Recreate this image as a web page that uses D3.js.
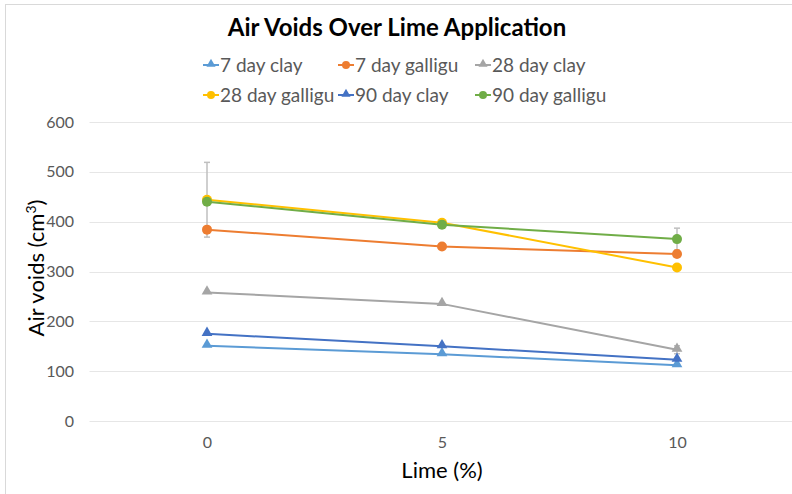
<!DOCTYPE html>
<html>
<head>
<meta charset="utf-8">
<script src="https://cdn.jsdelivr.net/npm/d3@7"></script>
<style>
  body { margin: 0; background: #fff; }
  text { font-family: Lato, "Open Sans", sans-serif; }
</style>
</head>
<body>
<div id="chart"></div>
<script>
// data
var limeLevels = [0, 5, 10];
var seriesNames = ["7 day clay", "7 day galligu", "28 day clay", "28 day galligu", "90 day clay", "90 day galligu"];
var clay7 = [151, 134, 112];
var galligu7 = [384, 350, 335];
var clay28 = [258, 235, 143];
var galligu28 = [444, 398, 308];
var clay90 = [175, 150, 123];
var galligu90 = [440, 394, 365];
// error bar half-widths (0 = not visible)
var errGalligu28 = [75, 0, 0];
var errGalligu90 = [0, 0, 22];
var errClay28 = [0, 0, 8];
var yTicks = [0, 100, 200, 300, 400, 500, 600];

var colors = ["#5B9BD5", "#ED7D31", "#A5A5A5", "#FFC000", "#4472C4", "#70AD47"];
var shapes = ["tri", "circ", "tri", "circ", "tri", "circ"];
var allValues = [clay7, galligu7, clay28, galligu28, clay90, galligu90];
var allErr = [null, null, errClay28, errGalligu28, null, errGalligu90];

var series = seriesNames.map(function(name, i) {
  return {
    name: name, color: colors[i], shape: shapes[i],
    points: limeLevels.map(function(x, j) {
      return { x: x, y: allValues[i][j], e: allErr[i] ? allErr[i][j] : 0 };
    })
  };
});

var width = 792, height = 494;

var svg = d3.select("#chart").append("svg")
  .attr("width", width).attr("height", height);

// chart border
svg.append("rect")
  .attr("x", 5.5).attr("y", 4.5)
  .attr("width", 800).attr("height", 500)
  .attr("fill", "none").attr("stroke", "#d9d9d9");

var x = d3.scaleLinear().domain([-2.5, 12.5]).range([89.5, 794.5]);
var y = d3.scaleLinear().domain([0, 600]).range([421, 122]);

// gridlines
svg.append("g")
  .selectAll("line").data(yTicks).enter().append("line")
  .attr("x1", x(-2.5)).attr("x2", x(12.5))
  .attr("y1", function(d) { return Math.round(y(d)) + 0.5; })
  .attr("y2", function(d) { return Math.round(y(d)) + 0.5; })
  .attr("stroke", "#e6e6e6").attr("stroke-width", 1);

// y axis labels
var yAxis = svg.append("g")
  .attr("transform", "translate(74,0)")
  .call(d3.axisLeft(y).tickValues(yTicks).tickSize(0).tickPadding(0));
yAxis.select(".domain").remove();
yAxis.selectAll("text")
  .attr("fill", "#595959").style("font-size", "16px")
  .style("font-family", "Lato, sans-serif");

// x axis labels
var xAxis = svg.append("g")
  .attr("transform", "translate(0,437)")
  .call(d3.axisBottom(x).tickValues(limeLevels).tickSize(0).tickPadding(0));
xAxis.select(".domain").remove();
xAxis.selectAll("text")
  .attr("fill", "#595959").style("font-size", "16px")
  .style("font-family", "Lato, sans-serif");

// title
svg.append("text")
  .attr("x", 397).attr("y", 36)
  .attr("text-anchor", "middle")
  .style("font-size", "24px").style("font-weight", "bold")
  .attr("fill", "#000")
  .text("Air Voids Over Lime Application");

// axis titles
svg.append("text")
  .attr("x", 442).attr("y", 478)
  .attr("text-anchor", "middle")
  .style("font-size", "22px").attr("fill", "#000")
  .text("Lime (%)");

var yt = svg.append("text")
  .attr("transform", "translate(44,268) rotate(-90)")
  .attr("text-anchor", "middle")
  .style("font-size", "22px").attr("fill", "#000");
yt.append("tspan").text("Air voids (cm");
yt.append("tspan").attr("dy", -8).style("font-size", "14px").text("3");
yt.append("tspan").attr("dy", 8).text(")");

var line = d3.line()
  .x(function(d) { return x(d.x); })
  .y(function(d) { return y(d.y); });

var triangle = d3.symbol().type(d3.symbolTriangle).size(50);

// error bars
series.forEach(function(s) {
  var eb = s.points.filter(function(p) { return p.e > 0; });
  var g = svg.append("g");
  g.selectAll(".eb").data(eb).enter().append("line")
    .attr("x1", function(d) { return x(d.x); }).attr("x2", function(d) { return x(d.x); })
    .attr("y1", function(d) { return y(d.y + d.e); }).attr("y2", function(d) { return y(d.y - d.e); })
    .attr("stroke", "#bfbfbf").attr("stroke-width", 1.5);
  g.selectAll(".capTop").data(eb).enter().append("line")
    .attr("x1", function(d) { return x(d.x) - 3; }).attr("x2", function(d) { return x(d.x) + 3; })
    .attr("y1", function(d) { return y(d.y + d.e); }).attr("y2", function(d) { return y(d.y + d.e); })
    .attr("stroke", "#bfbfbf").attr("stroke-width", 1.5);
  g.selectAll(".capBot").data(eb).enter().append("line")
    .attr("x1", function(d) { return x(d.x) - 3; }).attr("x2", function(d) { return x(d.x) + 3; })
    .attr("y1", function(d) { return y(d.y - d.e); }).attr("y2", function(d) { return y(d.y - d.e); })
    .attr("stroke", "#bfbfbf").attr("stroke-width", 1.5);
});

// lines and markers
series.forEach(function(s) {
  svg.append("path")
    .datum(s.points)
    .attr("d", line)
    .attr("fill", "none")
    .attr("stroke", s.color).attr("stroke-width", 2);

  if (s.shape === "circ") {
    svg.selectAll(null).data(s.points).enter().append("circle")
      .attr("cx", function(d) { return x(d.x); })
      .attr("cy", function(d) { return y(d.y); })
      .attr("r", 5).attr("fill", s.color);
  } else {
    svg.selectAll(null).data(s.points).enter().append("path")
      .attr("d", triangle)
      .attr("transform", function(d) { return "translate(" + x(d.x) + "," + (y(d.y) - 1) + ")"; })
      .attr("fill", s.color);
  }
});

// legend: 3 columns x 2 rows
var legendX = [203, 338, 475];
var legendY = [65, 95];
var legend = svg.selectAll(".legend").data(series).enter().append("g")
  .attr("class", "legend")
  .attr("transform", function(d, i) {
    return "translate(" + legendX[i % 3] + "," + legendY[Math.floor(i / 3)] + ")";
  });
legend.append("line")
  .attr("x1", 0).attr("x2", 16).attr("y1", 0).attr("y2", 0)
  .attr("stroke", function(d) { return d.color; }).attr("stroke-width", 2);
legend.each(function(d) {
  var g = d3.select(this);
  if (d.shape === "circ") {
    g.append("circle").attr("cx", 8).attr("cy", 0).attr("r", 4).attr("fill", d.color);
  } else {
    g.append("path").attr("d", d3.symbol().type(d3.symbolTriangle).size(36))
      .attr("transform", "translate(8,-1)").attr("fill", d.color);
  }
});
legend.append("text")
  .attr("x", 17).attr("y", 6.5)
  .style("font-size", "19px").attr("fill", "#595959")
  .text(function(d) { return d.name; });
</script>
</body>
</html>
